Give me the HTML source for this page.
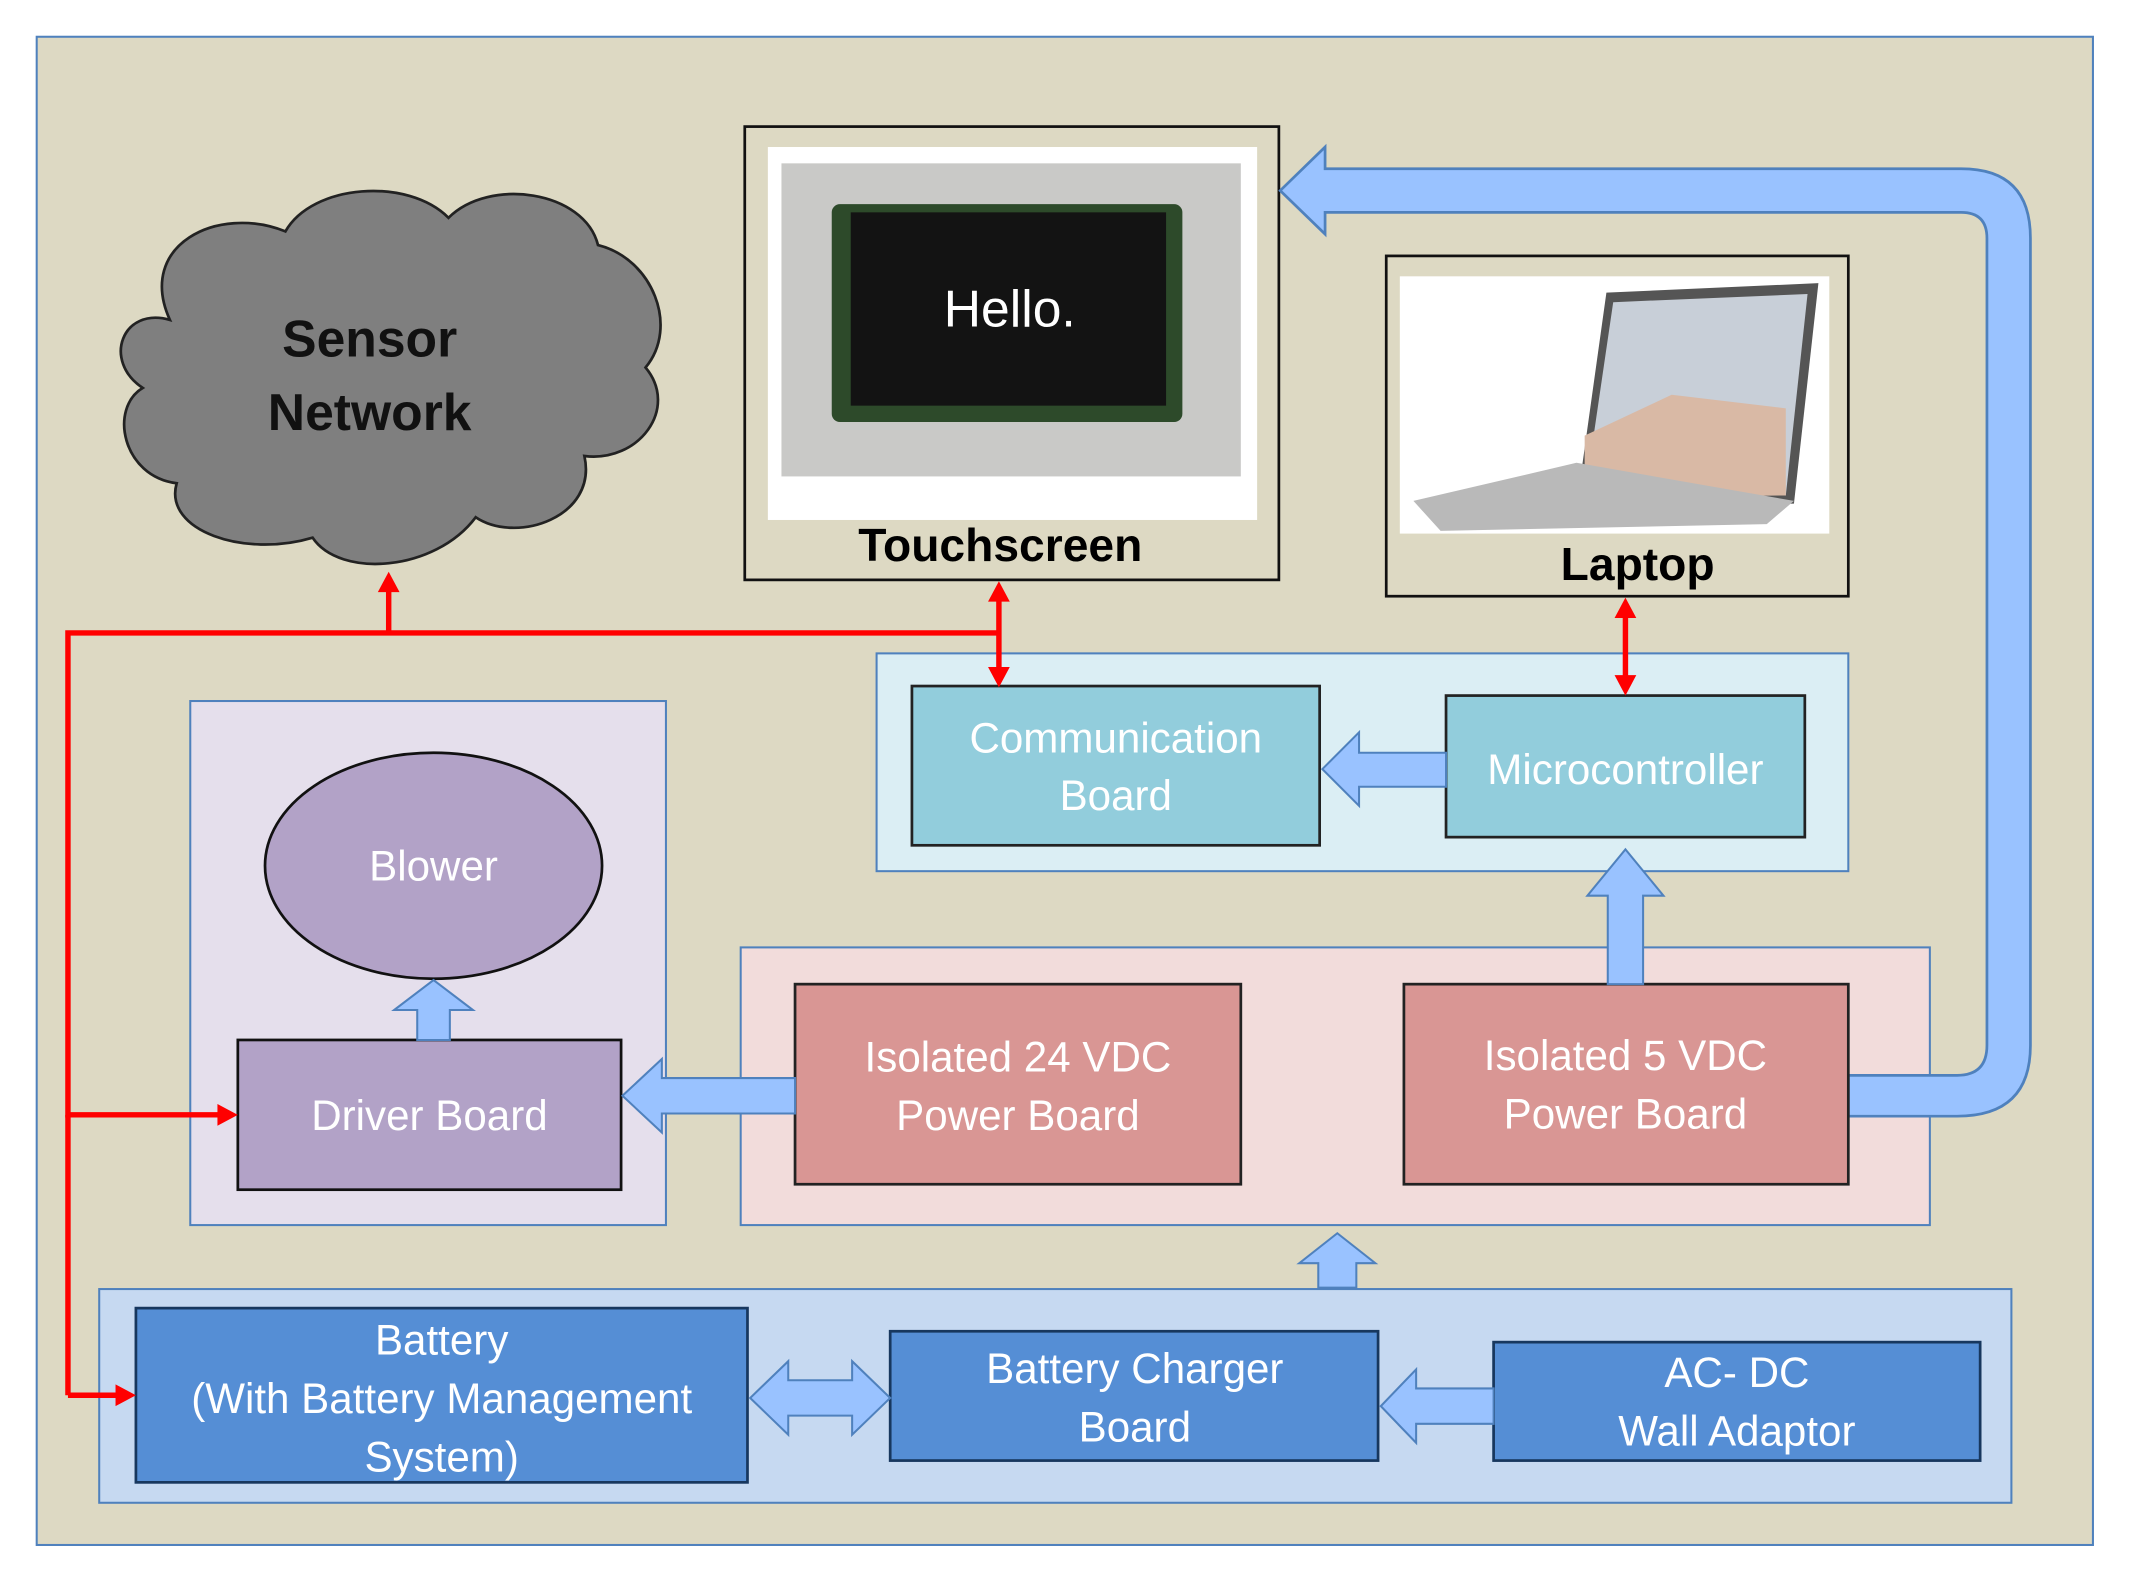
<!DOCTYPE html>
<html><head><meta charset="utf-8"><style>
html,body{margin:0;padding:0;background:#fff;}
svg{display:block}
text{font-family:"Liberation Sans","DejaVu Sans",sans-serif;}
</style></head><body>
<svg width="2131" height="1579" viewBox="0 0 1568 1160" preserveAspectRatio="none" xmlns="http://www.w3.org/2000/svg">
<rect x="0" y="0" width="1568" height="1160" fill="#fff"/>
<rect x="27" y="27" width="1513" height="1108" fill="#ddd9c3" stroke="#4f81bd" stroke-width="1.5"/>

<!-- cloud -->
<g fill="#7f7f7f" stroke="#222" stroke-width="2">
<path d="M125,235 C100,180 160,150 210,170 C230,135 300,130 330,160 C360,130 430,140 440,180 C480,190 500,240 475,270 C500,300 470,340 430,335 C440,380 380,400 350,380 C320,420 250,425 230,395 C180,410 120,390 130,355 C90,350 80,300 105,285 C75,265 90,225 125,235 Z"/>
</g>
<text x="272" y="262" font-size="38" font-weight="bold" text-anchor="middle" fill="#111">Sensor</text>
<text x="272" y="316" font-size="38" font-weight="bold" text-anchor="middle" fill="#111">Network</text>

<!-- Touchscreen -->
<rect x="548" y="93" width="393" height="333" fill="#ddd9c3" stroke="#111" stroke-width="2"/>
<rect x="565" y="108" width="360" height="274" fill="#fff"/>
<rect x="575" y="120" width="338" height="230" fill="#c9c9c7"/>
<rect x="612" y="150" width="258" height="160" fill="#2d4a2a" rx="6"/>
<rect x="626" y="156" width="232" height="142" fill="#131313"/>
<text x="743" y="240" font-size="38" text-anchor="middle" fill="#fff">Hello.</text>
<text x="736" y="412" font-size="34" font-weight="bold" text-anchor="middle" fill="#000">Touchscreen</text>

<!-- Laptop -->
<rect x="1020" y="188" width="340" height="250" fill="#ddd9c3" stroke="#111" stroke-width="2"/>
<rect x="1030" y="203" width="316" height="189" fill="#fff"/>
<polygon points="1182,215 1338,208 1320,370 1160,372" fill="#555"/>
<polygon points="1187,222 1330,216 1314,364 1166,365" fill="#c8cfd8"/>
<polygon points="1166,320 1230,290 1314,300 1314,364 1166,365" fill="#d9b9a5"/>
<polygon points="1040,368 1160,340 1320,368 1300,385 1060,390" fill="#b9b9b9"/>
<text x="1205" y="426" font-size="34" font-weight="bold" text-anchor="middle" fill="#000">Laptop</text>

<!-- light blue container -->
<rect x="645" y="480" width="715" height="160" fill="#dbeef4" stroke="#4f81bd" stroke-width="1.5"/>
<rect x="671" y="504" width="300" height="117" fill="#92cddc" stroke="#222" stroke-width="2"/>
<text x="821" y="553" font-size="31" text-anchor="middle" fill="#fff">Communication</text>
<text x="821" y="595" font-size="31" text-anchor="middle" fill="#fff">Board</text>
<rect x="1064" y="511" width="264" height="104" fill="#92cddc" stroke="#222" stroke-width="2"/>
<text x="1196" y="576" font-size="31" text-anchor="middle" fill="#fff">Microcontroller</text>
<polygon points="1064,553 1064,578 1000,578 1000,592 973,565 1000,538 1000,553" fill="#99c2ff" stroke="#4f81bd" stroke-width="1.5"/>

<!-- purple container -->
<rect x="140" y="515" width="350" height="385" fill="#e5dfec" stroke="#4f81bd" stroke-width="1.5"/>
<ellipse cx="319" cy="636" rx="124" ry="83" fill="#b2a2c7" stroke="#111" stroke-width="2"/>
<text x="319" y="647" font-size="31" text-anchor="middle" fill="#fff">Blower</text>
<rect x="175" y="764" width="282" height="110" fill="#b2a2c7" stroke="#111" stroke-width="2"/>
<text x="316" y="830" font-size="31" text-anchor="middle" fill="#fff">Driver Board</text>
<polygon points="307,764 307,742 290,742 319,720 348,742 331,742 331,764" fill="#99c2ff" stroke="#4f81bd" stroke-width="1.5"/>

<!-- pink container -->
<rect x="545" y="696" width="875" height="204" fill="#f2dcdb" stroke="#4f81bd" stroke-width="1.5"/>

<!-- big loop arrow -->
<path d="M1360,790 L1440,790 Q1462,790 1462,768 L1462,175 Q1462,156 1443,156 L975,156 L975,172 L942,140 L975,108 L975,124 L1443,124 Q1494,124 1494,175 L1494,768 Q1494,820 1440,820 L1360,820 Z" fill="#99c2ff" stroke="#4f81bd" stroke-width="2"/>

<rect x="585" y="723" width="328" height="147" fill="#d99694" stroke="#222" stroke-width="2"/>
<text x="749" y="787" font-size="31" text-anchor="middle" fill="#fff">Isolated 24 VDC</text>
<text x="749" y="830" font-size="31" text-anchor="middle" fill="#fff">Power Board</text>
<rect x="1033" y="723" width="327" height="147" fill="#d99694" stroke="#222" stroke-width="2"/>
<text x="1196" y="786" font-size="31" text-anchor="middle" fill="#fff">Isolated 5 VDC</text>
<text x="1196" y="829" font-size="31" text-anchor="middle" fill="#fff">Power Board</text>
<polygon points="585,792 585,818 487,818 487,832 458,805 487,778 487,792" fill="#99c2ff" stroke="#4f81bd" stroke-width="1.5"/>
<polygon points="1183,723 1183,658 1168,658 1196,624 1224,658 1209,658 1209,723" fill="#99c2ff" stroke="#4f81bd" stroke-width="1.5"/>
<polygon points="970,946 970,928 956,928 984,906 1012,928 998,928 998,946" fill="#99c2ff" stroke="#4f81bd" stroke-width="1.5"/>

<!-- bottom container -->
<rect x="73" y="947" width="1407" height="157" fill="#c6d9f1" stroke="#4f81bd" stroke-width="1.5"/>
<rect x="100" y="961" width="450" height="128" fill="#558ed5" stroke="#17375e" stroke-width="2"/>
<text x="325" y="995" font-size="31" text-anchor="middle" fill="#fff">Battery</text>
<text x="325" y="1038" font-size="31" text-anchor="middle" fill="#fff">(With Battery Management</text>
<text x="325" y="1081" font-size="31" text-anchor="middle" fill="#fff">System)</text>
<rect x="655" y="978" width="359" height="95" fill="#558ed5" stroke="#17375e" stroke-width="2"/>
<text x="835" y="1016" font-size="31" text-anchor="middle" fill="#fff">Battery Charger</text>
<text x="835" y="1059" font-size="31" text-anchor="middle" fill="#fff">Board</text>
<rect x="1099" y="986" width="358" height="87" fill="#558ed5" stroke="#17375e" stroke-width="2"/>
<text x="1278" y="1019" font-size="31" text-anchor="middle" fill="#fff">AC- DC</text>
<text x="1278" y="1062" font-size="31" text-anchor="middle" fill="#fff">Wall Adaptor</text>
<polygon points="552,1027 580,1000 580,1014 627,1014 627,1000 655,1027 627,1054 627,1040 580,1040 580,1054" fill="#99c2ff" stroke="#4f81bd" stroke-width="1.5"/>
<polygon points="1099,1020 1099,1046 1042,1046 1042,1060 1016,1033 1042,1006 1042,1020" fill="#99c2ff" stroke="#4f81bd" stroke-width="1.5"/>

<!-- red lines -->
<g stroke="#ff0000" stroke-width="4" fill="none">
<polyline points="168,819 50,819 50,465 735,465"/>
<line x1="50" y1="819" x2="50" y2="1025"/>
<line x1="50" y1="1025" x2="92" y2="1025"/>
<line x1="286" y1="465" x2="286" y2="432"/>
<line x1="735" y1="438" x2="735" y2="495"/>
<line x1="1196" y1="450" x2="1196" y2="500"/>
</g>
<g fill="#ff0000">
<polygon points="175,819 160,811 160,827"/>
<polygon points="100,1025 85,1017 85,1033"/>
<polygon points="286,420 278,435 294,435"/>
<polygon points="735,427 727,442 743,442"/>
<polygon points="735,505 727,490 743,490"/>
<polygon points="1196,439 1188,454 1204,454"/>
<polygon points="1196,511 1188,496 1204,496"/>
</g>
</svg>
</body></html>
